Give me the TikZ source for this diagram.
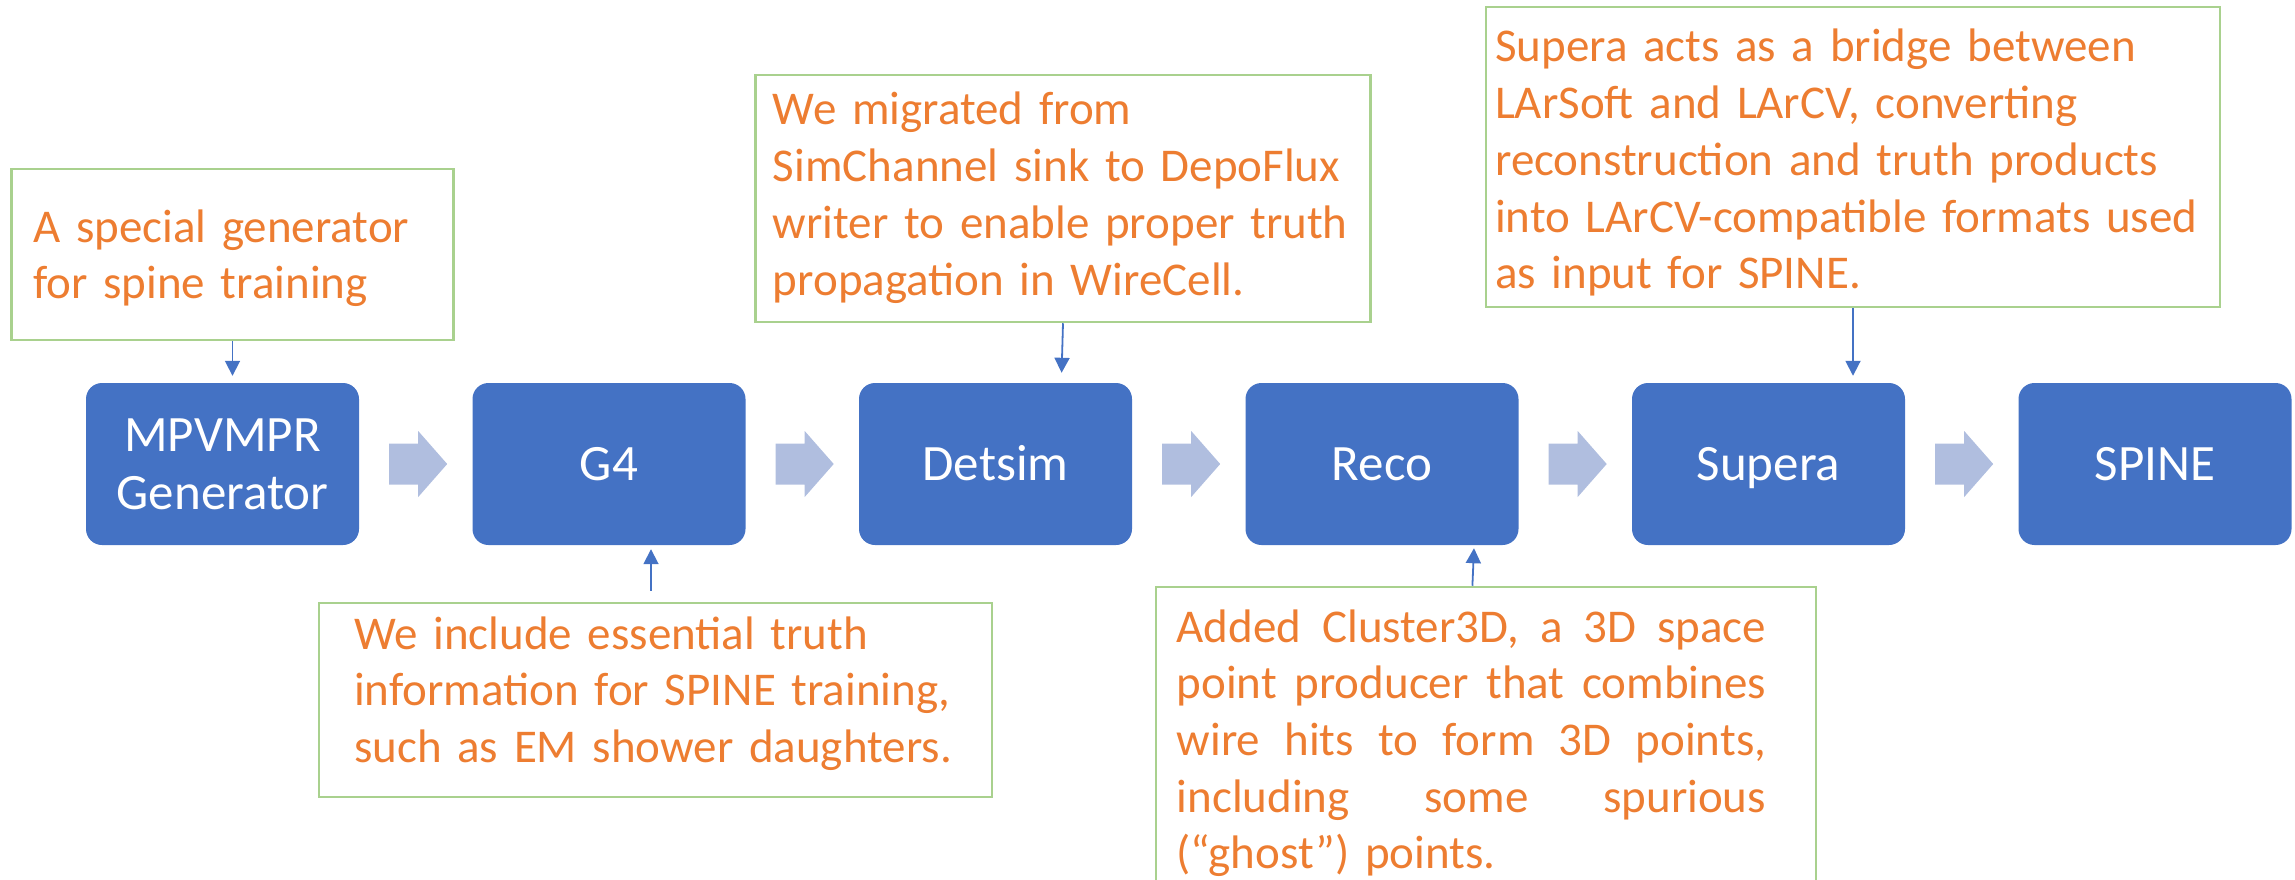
\documentclass[tikz,border=0pt]{standalone}
\usepackage{fontspec}
\setmainfont{Carlito}
\usetikzlibrary{arrows.meta,calc}
\definecolor{boxblue}{HTML}{4472C4}
\definecolor{arrowblue}{HTML}{B0BEDF}
\definecolor{noteorange}{HTML}{ED7D31}
\definecolor{notegreen}{HTML}{A9D18E}
\newcommand{\jline}[1]{\leavevmode\makebox[589.5pt][l]{#1}}
\tikzset{
  bluebox/.style={rectangle, rounded corners=16pt, fill=boxblue, minimum width=273pt,
    minimum height=162pt, inner sep=0pt, text=white, align=center,
    font=\fontsize{51pt}{58pt}\selectfont},
  onelinebox/.style={bluebox, text height=33pt, text depth=0pt},
  notebox/.style={rectangle, draw=notegreen, line width=2.5pt, inner sep=0pt, fill=none},
  notetext/.style={inner sep=0pt, text=noteorange, align=left, anchor=base west,
    font=\fontsize{47pt}{56.7pt}\selectfont},
  conn/.style={draw=boxblue, line width=1.8pt, -{Triangle[length=15pt,width=15pt]}},
  blockarrow/.style={fill=arrowblue, draw=none}
}
\begin{document}
\begin{tikzpicture}[x=1pt,y=1pt]
\useasboundingbox (0,0) rectangle (2295,-880);
\clip (0,0) rectangle (2295,-880);

% process boxes
\node[bluebox]    (b1) at (222.5,-464)  {MPVMPR\\Generator};
\node[onelinebox] (b2) at (609,-464)    {G4};
\node[onelinebox] (b3) at (995.5,-464)  {Detsim};
\node[onelinebox] (b4) at (1382,-464)   {Reco};
\node[onelinebox] (b5) at (1768.5,-464) {Supera};
\node[onelinebox] (b6) at (2155,-464)   {SPINE};

% block arrows
\foreach \a in {b1,b2,b3,b4,b5}{
  \fill[blockarrow] ($(\a.east)+(30,20.5)$) -- ++(29,0) -- ++(0,12.5) -- ++(29,-33)
    -- ++(-29,-33) -- ++(0,12.5) -- ++(-29,0) -- cycle;
}

% note boxes
\node[notebox, minimum width=442pt, minimum height=171pt] (nA)   at (232.5,-254.5) {};
\node[notebox, minimum width=615pt, minimum height=247pt] (nMig) at (1063,-198.5) {};
\node[notebox, minimum width=734pt, minimum height=300pt] (nSup) at (1853,-157) {};
\node[notebox, minimum width=673pt, minimum height=194pt] (nInc) at (655.5,-700) {};
\node[notebox, minimum width=660pt, minimum height=330pt] (nClu) at (1486,-752) {};

% note texts
\node[notetext, text width=420pt] (tA) at (33,-242)
  {A special generator\\for spine training};
\node[notetext, text width=590pt] (tMig) at (772.7,-125)
  {We migrated from\\SimChannel sink to DepoFlux\\writer to enable proper truth\\propagation in WireCell.};
\node[notetext, text width=720pt] (tSup) at (1495,-62)
  {Supera acts as a bridge between\\LArSoft and LArCV, converting\\reconstruction and truth products\\into LArCV-compatible formats used\\as input for SPINE.};
\node[notetext, text width=630pt] (tInc) at (354,-649)
  {We include essential truth\\information for SPINE training,\\such as EM shower daughters.};
\node[notetext, text width=590pt] (tClu) at (1176.5,-642)
  {\jline{Added\hfill Cluster3D,\hfill a\hfill 3D\hfill space}\\
   \jline{point\hfill producer\hfill that\hfill combines}\\
   \jline{wire\hfill hits\hfill to\hfill form\hfill 3D\hfill points,}\\
   \jline{including\hfill some\hfill spurious}\\
   (“ghost”) points.};

% connectors
\draw[conn] (nA.south) -- ($(nA.south |- b1.north)+(0,7)$);
\draw[conn] (nMig.south) -- ($(nMig.south |- b3.north)+(-1.4,10)$);
\draw[conn] (nSup.south) -- ($(nSup.south |- b5.north)+(0,7)$);
\draw[conn] ($(nInc.north)+(-4.5,11)$) -- ($(nInc.north |- b2.south)+(-4.5,-4)$);
\draw[conn] ($(nClu.north)+(-13.6,0)$) -- ($(nClu.north |- b4.south)+(-12,-3)$);
\end{tikzpicture}
\end{document}
